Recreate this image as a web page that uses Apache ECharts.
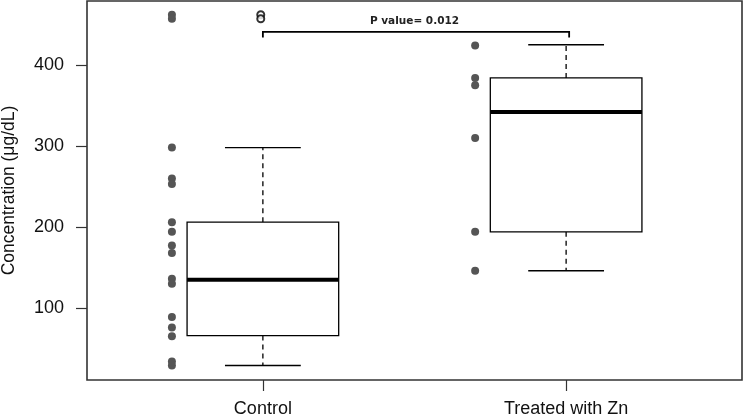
<!DOCTYPE html>
<html>
<head>
<meta charset="utf-8">
<script src="https://cdn.jsdelivr.net/npm/echarts@6/dist/echarts.min.js"></script>
<style>
  html, body { margin: 0; padding: 0; background: #fff; }
  #chart { width: 744px; height: 416px; }
</style>
</head>
<body>
<div id="chart"></div>
<script>
// data
const groups = ['Control', 'Treated with Zn']
// [lower whisker, Q1, median, Q3, upper whisker]
const controlBox = [29, 66, 135, 206, 298]
const treatedBox = [146, 194, 342, 384, 425]
const controlOutliers = [462, 457]
const controlPoints = [462, 457, 298, 260, 253, 206, 194, 177, 168, 136, 130, 89, 76, 65, 34, 29]
const treatedPoints = [424, 384, 375, 310, 194, 146]
const yTicks = [100, 200, 300, 400]
const xTicks = [1, 2]
const pText = 'P value= 0.012'
const bracketX = [1, 2.01]
const bracketY = [434, 441]
const pTextPos = [1.5, 454]

const chart = echarts.init(document.getElementById('chart'))

function renderBox(params, api) {
  const x = api.value(0)
  const y = (k) => api.coord([x, api.value(k)])[1]
  const px = (dx) => api.coord([x + dx, 0])[0]
  const left = px(-0.25), right = px(0.25)
  const capL = px(-0.125), capR = px(0.125)
  const cx = px(0)
  const lo = y(1), q1 = y(2), med = y(3), q3 = y(4), hi = y(5)
  const solid = { stroke: '#000', lineWidth: 1.3 }
  const dashed = { stroke: '#000', lineWidth: 1.3, lineDash: [5, 4] }
  return {
    type: 'group',
    children: [
      { type: 'line', shape: { x1: cx, y1: q3, x2: cx, y2: hi }, style: dashed },
      { type: 'line', shape: { x1: cx, y1: q1, x2: cx, y2: lo }, style: dashed },
      { type: 'line', shape: { x1: capL, y1: hi, x2: capR, y2: hi }, style: solid },
      { type: 'line', shape: { x1: capL, y1: lo, x2: capR, y2: lo }, style: solid },
      { type: 'rect', shape: { x: left, y: q3, width: right - left, height: q1 - q3 },
        style: { fill: '#fff', stroke: '#000', lineWidth: 1.3 } },
      { type: 'line', shape: { x1: left, y1: med, x2: right, y2: med },
        style: { stroke: '#000', lineWidth: 4 } },
    ],
  }
}

function renderBracket(params, api) {
  const a = api.coord([bracketX[0], bracketY[0]])
  const b = api.coord([bracketX[0], bracketY[1]])
  const c = api.coord([bracketX[1], bracketY[1]])
  const d = api.coord([bracketX[1], bracketY[0]])
  const t = api.coord(pTextPos)
  return {
    type: 'group',
    children: [
      { type: 'polyline', shape: { points: [a, b, c, d] },
        style: { fill: null, stroke: '#000', lineWidth: 1.8 } },
      { type: 'text', x: t[0], y: t[1],
        style: { text: pText, align: 'center', verticalAlign: 'middle',
          font: 'bold 10.5px "DejaVu Sans", Verdana, sans-serif', fill: '#222' } },
    ],
  }
}

chart.setOption({
  animation: false,
  backgroundColor: '#fff',
  grid: {
    left: 87, right: 2, top: 1, bottom: 36,
    outerBoundsMode: 'none',
    containLabel: false,
    show: true, borderColor: '#333', borderWidth: 1.6,
  },
  xAxis: {
    type: 'value',
    min: 0.42,
    max: 2.58,
    splitLine: { show: false },
    axisLine: { show: false },
    axisTick: { show: true, length: 11, customValues: xTicks, lineStyle: { color: '#333', width: 1.2 } },
    axisLabel: {
      customValues: xTicks,
      formatter: (v) => groups[Math.round(v) - 1] || '',
      margin: 20,
      fontSize: 18,
      fontFamily: '"Liberation Sans", Arial, sans-serif',
      color: '#111',
    },
  },
  yAxis: {
    type: 'value',
    min: 11.1,
    max: 479,
    name: 'Concentration (μg/dL)',
    nameLocation: 'middle',
    nameGap: 69,
    nameTextStyle: { fontSize: 17.5, fontFamily: '"Liberation Sans", Arial, sans-serif', color: '#111' },
    splitLine: { show: false },
    axisLine: { show: false },
    axisTick: { show: true, length: 11, customValues: yTicks, lineStyle: { color: '#333', width: 1.2 } },
    axisLabel: {
      customValues: yTicks,
      margin: 23,
      fontSize: 18,
      fontFamily: '"Liberation Sans", Arial, sans-serif',
      color: '#111',
    },
  },
  series: [
    {
      type: 'custom',
      renderItem: renderBox,
      data: [[1, ...controlBox], [2, ...treatedBox]],
      encode: { x: 0, y: [1, 2, 3, 4, 5] },
      z: 2,
    },
    {
      type: 'scatter',
      symbol: 'emptyCircle',
      symbolSize: 7,
      itemStyle: { color: '#000', borderColor: '#000', borderWidth: 1.2 },
      data: controlOutliers.map((v) => [0.993, v]),
      z: 3,
    },
    {
      type: 'scatter',
      symbolSize: 8,
      itemStyle: { color: '#555', opacity: 1 },
      data: controlPoints.map((v) => [0.7, v]),
      z: 3,
    },
    {
      type: 'scatter',
      symbolSize: 8,
      itemStyle: { color: '#555', opacity: 1 },
      data: treatedPoints.map((v) => [1.7, v]),
      z: 3,
    },
    {
      type: 'custom',
      renderItem: renderBracket,
      data: [[pTextPos[0], pTextPos[1]]],
      z: 4,
    },
  ],
})
</script>
</body>
</html>
